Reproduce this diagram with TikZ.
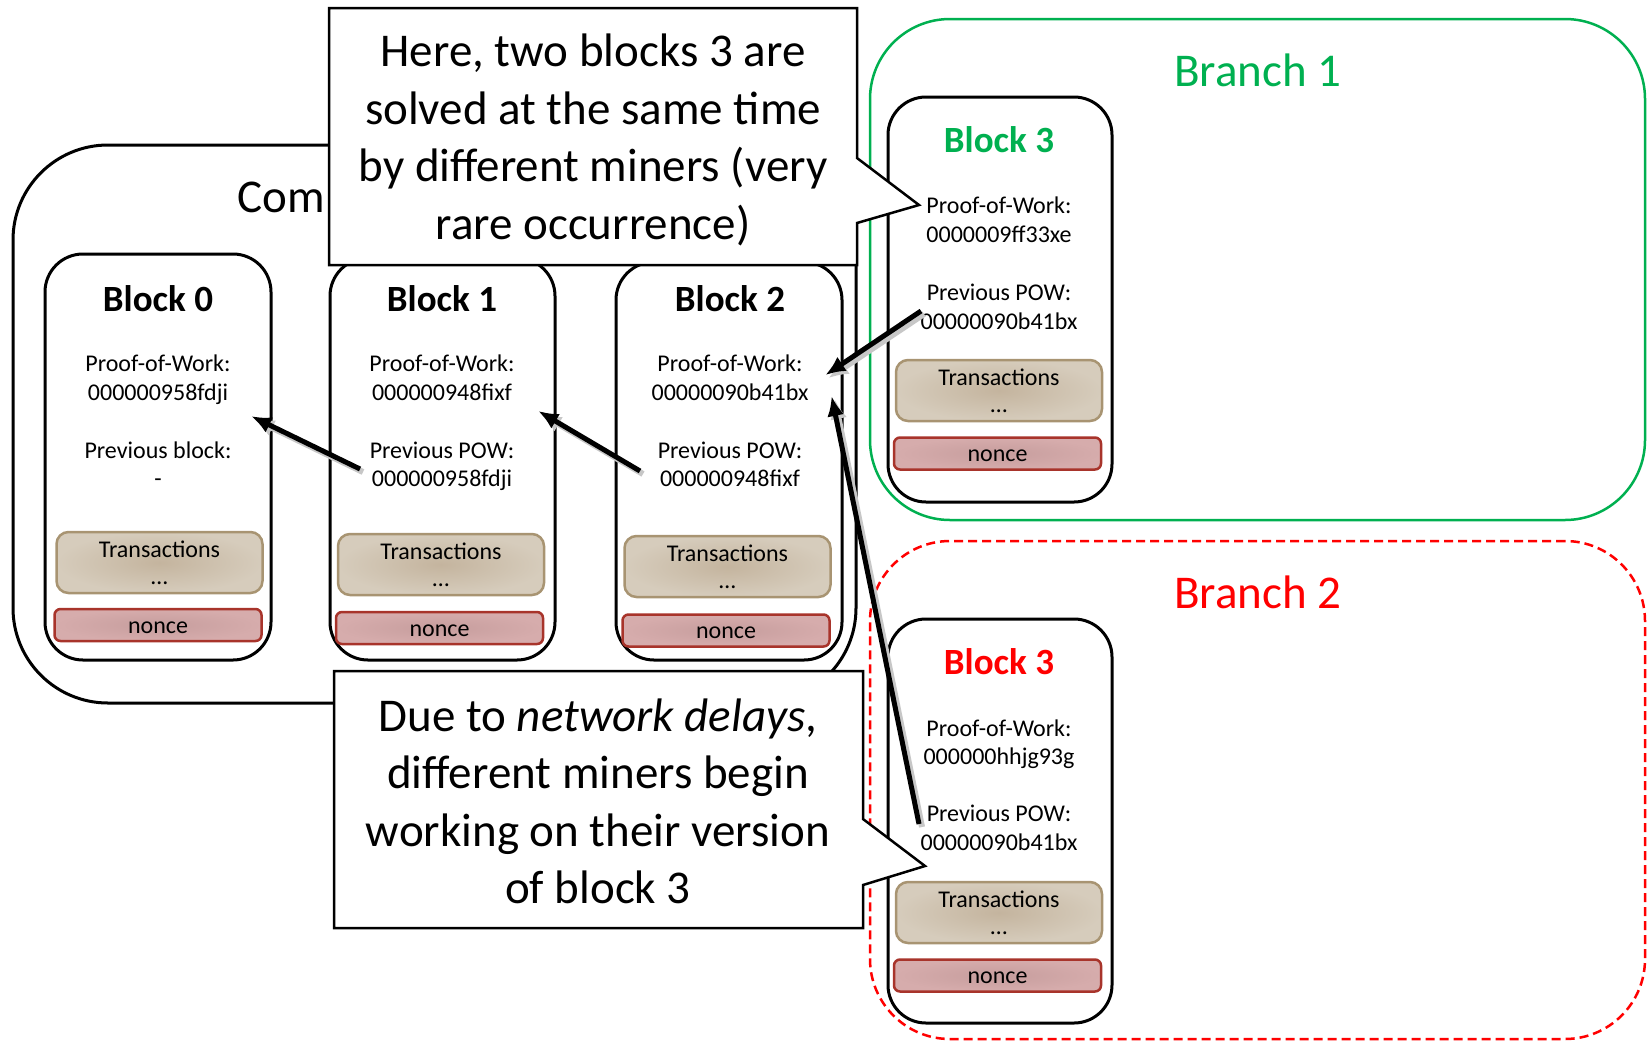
\documentclass[tikz,border=0pt]{standalone}
\usepackage{fontspec}
\setmainfont{Carlito}
\usetikzlibrary{arrows.meta}
\definecolor{tanin}{HTML}{C4B49E}
\definecolor{tanout}{HTML}{D6CCBC}
\definecolor{tanline}{HTML}{A89472}
\definecolor{pinkin}{HTML}{C69D9D}
\definecolor{pinkout}{HTML}{D6ACAC}
\definecolor{pinkline}{HTML}{A8342B}
\definecolor{brgreen}{HTML}{00B050}
\definecolor{brred}{HTML}{FF0000}
\begin{document}
\begin{tikzpicture}[x=1pt,y=-1pt,
  blockbox/.style={draw=black, line width=3pt, rounded corners=38pt, fill=white, inner sep=0pt},
  chainbox/.style={draw=black, line width=3pt, rounded corners=95pt, inner sep=0pt},
  branchone/.style={draw=brgreen, line width=2.5pt, rounded corners=80pt, inner sep=0pt},
  branchtwo/.style={draw=brred, line width=2.5pt, dash pattern=on 9pt off 5pt, rounded corners=80pt, inner sep=0pt},
  transbox/.style={draw=tanline, line width=2.5pt, rounded corners=12pt, inner color=tanin, outer color=tanout, minimum width=206pt, minimum height=61pt, inner sep=0pt},
  noncebox/.style={draw=pinkline, line width=2.5pt, rounded corners=6pt, inner color=pinkin, outer color=pinkout, minimum width=207pt, minimum height=32pt, inner sep=0pt},
  ttl/.style={font=\fontsize{37}{44}\selectfont\bfseries, anchor=base, inner sep=0pt},
  body/.style={font=\fontsize{24}{29}\selectfont, anchor=base, inner sep=0pt},
  big/.style={font=\fontsize{47}{57}\selectfont, anchor=base, inner sep=0pt},
  callout/.style={draw=black, line width=2.5pt, fill=white, line join=miter},
  arr/.style={draw=black, line width=5pt, -{Latex[length=20pt,width=17pt]}, shorten >=-2pt,
    preaction={draw=black!22, line width=6pt, transform canvas={shift={(3,3)}}}}
]
\useasboundingbox (0,0) rectangle (1651,1042);

% containers
\node[chainbox, minimum width=843pt, minimum height=558pt] (chain) at (434.5,424) {};
\node[big, anchor=base west] (chaintxt) at (237,212) {Com};
\node[branchone, minimum width=775pt, minimum height=501pt] (br1) at (1257.5,269.5) {};
\node[big, text=brgreen] (br1txt) at (1258,86) {Branch 1};
\node[branchtwo, minimum width=775pt, minimum height=498pt] (br2) at (1257.5,790) {};
\node[big, text=brred] (br2txt) at (1258,608) {Branch 2};

% Block 0
\node[blockbox, minimum width=226pt, minimum height=406pt] (b0) at (158,457) {};
\node[ttl] (b0t) at (158,311) {Block 0};
\node[body] (b0p) at (158,371) {Proof-of-Work:};
\node[body] (b0pv) at (158,400) {000000958fdji};
\node[body] (b0q) at (158,458) {Previous block:};
\node[body] (b0qv) at (158,486) {-};
\node[transbox] (t0) at (159.5,562.5) {};
\node[body] (t0a) at (159.5,557) {Transactions};
\node[body] (t0b) at (159.5,584) {\ldots};
\node[noncebox] (n0) at (158,625) {};
\node[body] (n0t) at (158,633) {nonce};

% Block 1
\node[blockbox, minimum width=225pt, minimum height=402pt] (b1) at (442.5,459) {};
\node[ttl] (b1t) at (442,311) {Block 1};
\node[body] (b1p) at (442,371) {Proof-of-Work:};
\node[body] (b1pv) at (442,400) {000000948fixf};
\node[body] (b1q) at (442,458) {Previous POW:};
\node[body] (b1qv) at (442,486) {000000958fdji};
\node[transbox] (t1) at (441,564.5) {};
\node[body] (t1a) at (441,559) {Transactions};
\node[body] (t1b) at (441,586) {\ldots};
\node[noncebox] (n1) at (439.5,628) {};
\node[body] (n1t) at (439.5,636) {nonce};

% Block 2
\node[blockbox, minimum width=226pt, minimum height=398pt] (b2) at (729,461) {};
\node[ttl] (b2t) at (730,311) {Block 2};
\node[body] (b2p) at (730,371) {Proof-of-Work:};
\node[body] (b2pv) at (730,400) {00000090b41bx};
\node[body] (b2q) at (730,458) {Previous POW:};
\node[body] (b2qv) at (730,486) {000000948fixf};
\node[transbox] (t2) at (727.5,566.5) {};
\node[body] (t2a) at (727.5,561) {Transactions};
\node[body] (t2b) at (727.5,588) {\ldots};
\node[noncebox] (n2) at (726,630.5) {};
\node[body] (n2t) at (726,638.5) {nonce};

% Block 3 (branch 1)
\node[blockbox, minimum width=224pt, minimum height=405pt] (b3g) at (1000,299.5) {};
\node[ttl, text=brgreen] (b3gt) at (999,152) {Block 3};
\node[body] (b3gp) at (999,213) {Proof-of-Work:};
\node[body] (b3gpv) at (999,242) {0000009ff33xe};
\node[body] (b3gq) at (999,300) {Previous POW:};
\node[body] (b3gqv) at (999,329) {00000090b41bx};
\node[transbox] (t3g) at (999,390.5) {};
\node[body] (t3ga) at (999,385) {Transactions};
\node[body] (t3gb) at (999,412) {\ldots};
\node[noncebox] (n3g) at (997.5,453.5) {};
\node[body] (n3gt) at (997.5,461.5) {nonce};

% Block 3 (branch 2)
\node[blockbox, minimum width=224pt, minimum height=404pt] (b3r) at (1000,821) {};
\node[ttl, text=brred] (b3rt) at (999,674) {Block 3};
\node[body] (b3rp) at (999,736) {Proof-of-Work:};
\node[body] (b3rpv) at (999,764) {000000hhjg93g};
\node[body] (b3rq) at (999,821) {Previous POW:};
\node[body] (b3rqv) at (999,850) {00000090b41bx};
\node[transbox] (t3r) at (999,912.5) {};
\node[body] (t3ra) at (999,907) {Transactions};
\node[body] (t3rb) at (999,934) {\ldots};
\node[noncebox] (n3r) at (997.5,975.5) {};
\node[body] (n3rt) at (997.5,983.5) {nonce};

% callout 1
\draw[callout] (329,8) -- (857,8) -- (857,158) -- (919,205) -- (857,223) -- (857,265) -- (329,265) -- cycle;
\node[big] (c1a) at (593,66) {Here, two blocks 3 are};
\node[big] (c1b) at (593,124) {solved at the same time};
\node[big] (c1c) at (593,181) {by different miners (very};
\node[big] (c1d) at (593,239) {rare occurrence)};

% callout 2
\draw[callout] (334,671) -- (863,671) -- (863,819) -- (925,866) -- (863,885) -- (863,928) -- (334,928) -- cycle;
\node[big] (c2a) at (598,731) {Due to \textit{network delays},};
\node[big] (c2b) at (598,788) {different miners begin};
\node[big] (c2c) at (598,846) {working on their version};
\node[big] (c2d) at (598,903) {of block 3};

% arrows
\coordinate (a1s) at (360,469); \coordinate (a1e) at (253,417);
\coordinate (a2s) at (640,471); \coordinate (a2e) at (540,412);
\coordinate (a3s) at (921,311); \coordinate (a3e) at (827,374);
\coordinate (a4s) at (919,824); \coordinate (a4e) at (832,398);
\draw[arr] (a1s) -- (a1e);
\draw[arr] (a2s) -- (a2e);
\draw[arr] (a3s) -- (a3e);
\draw[arr] (a4s) -- (a4e);
\end{tikzpicture}
\end{document}
